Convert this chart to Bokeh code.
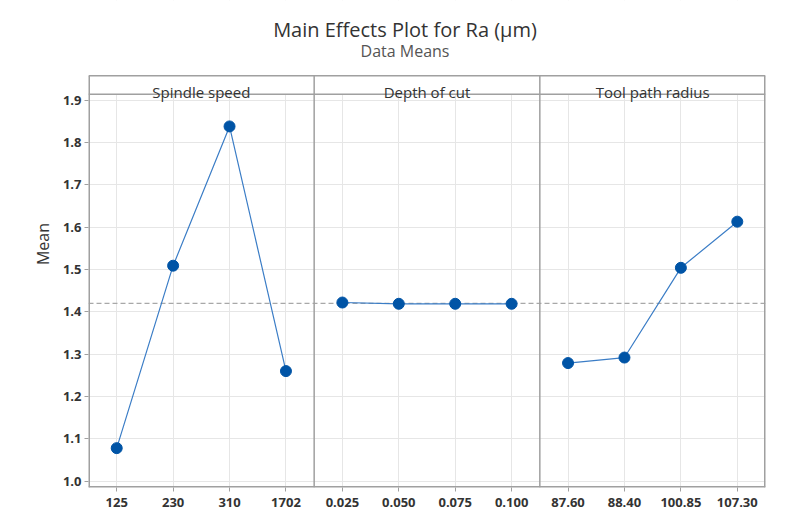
from bokeh.plotting import figure
from bokeh.models import FixedTicker, PrintfTickFormatter
from bokeh.core.properties import value
from bokeh.embed import file_html
from bokeh.resources import INLINE

# ---- data ----
title_text = "Main Effects Plot for Ra (µm)"
subtitle_text = "Data Means"
factor_names = ["Spindle speed", "Depth of cut", "Tool path radius"]
spindle_levels = ["125", "230", "310", "1702"]
spindle_means = [1.078, 1.509, 1.838, 1.260]
depth_levels = ["0.025", "0.050", "0.075", "0.100"]
depth_means = [1.422, 1.419, 1.419, 1.419]
radius_levels = ["87.60", "88.40", "100.85", "107.30"]
radius_means = [1.279, 1.292, 1.504, 1.613]
overall_mean = 1.420
y_ticks = [1.0, 1.1, 1.2, 1.3, 1.4, 1.5, 1.6, 1.7, 1.8, 1.9]

panels = [(spindle_levels, spindle_means), (depth_levels, depth_means), (radius_levels, radius_means)]

FONT = "Open Sans"
TXT = "#333333"
FRAME = "#a0a0a0"
# y layout (data units): plot box bottom, strip bottom, box top, canvas top
Y_BOTTOM, Y_HEADER, Y_TOP, Y_CANVAS = 0.985, 1.9142, 1.958, 2.1355

p = figure(frame_width=677, frame_height=487,
           min_border_left=88, min_border_right=14, min_border_top=0, min_border_bottom=34,
           x_range=(0.5, 12.5), y_range=(Y_BOTTOM, Y_CANVAS),
           output_backend="svg", toolbar_location=None, title=None,
           background_fill_color="white", border_fill_color="white")
p.outline_line_color = None

# grids
p.xgrid.ticker = FixedTicker(ticks=list(range(1, 13)))
p.ygrid.ticker = FixedTicker(ticks=y_ticks)
for g in (p.xgrid, p.ygrid):
    g.grid_line_color = "#e6e6e6"
    g.grid_line_width = 1

# axes
labels = {}
for k, (lv, _) in enumerate(panels):
    for i, lab in enumerate(lv):
        labels[k * 4 + i + 1] = lab
p.xaxis.ticker = FixedTicker(ticks=list(labels.keys()))
p.xaxis.major_label_overrides = labels
p.yaxis.ticker = FixedTicker(ticks=y_ticks)
p.yaxis.formatter = PrintfTickFormatter(format="%.1f")
p.yaxis.axis_label = "Mean"
p.yaxis.axis_label_text_font = FONT
p.yaxis.axis_label_text_font_size = "16px"
p.yaxis.axis_label_text_font_style = "normal"
p.yaxis.axis_label_text_color = TXT
p.yaxis.axis_label_standoff = 6
for ax in (p.xaxis, p.yaxis):
    ax.axis_line_color = None
    ax.major_tick_line_color = FRAME
    ax.major_tick_out = 4
    ax.major_tick_in = 0
    ax.minor_tick_line_color = None
    ax.major_label_text_font = FONT
    ax.major_label_text_font_size = "13px"
    ax.major_label_text_font_style = "bold"
    ax.major_label_text_color = TXT
p.yaxis.major_label_standoff = 3
p.xaxis.major_label_standoff = 6

# blank area above the panels (title area + header strip background)
p.quad(left=[0.5], right=[12.5], bottom=[Y_HEADER], top=[Y_CANVAS], fill_color="white", line_color=None)

# titles
p.text(x=[6.11], y=[2.0669], text=[title_text], text_align="center", text_baseline="middle",
       text_font=value(FONT), text_font_size="20px", text_color=TXT)
p.text(x=[6.11], y=[2.0173], text=[subtitle_text], text_align="center", text_baseline="middle",
       text_font=value(FONT), text_font_size="16px", text_color="#555555")

# header strip
p.segment(x0=[0.5, 0.5], x1=[12.5, 12.5], y0=[Y_HEADER, Y_TOP], y1=[Y_HEADER, Y_TOP],
          line_color=FRAME, line_width=1.5)
p.text(x=[2.5, 6.5, 10.5], y=[1.9203] * 3, text=factor_names, text_align="center",
       text_baseline="alphabetic", text_font=value(FONT), text_font_size="15px", text_color=TXT)

# mean reference line
p.segment(x0=[0.5], x1=[12.5], y0=[overall_mean], y1=[overall_mean],
          line_color="#a8a8a8", line_width=1.2, line_dash="5 3")

# panel dividers
p.segment(x0=[4.5, 8.5], x1=[4.5, 8.5], y0=[Y_BOTTOM] * 2, y1=[Y_TOP] * 2,
          line_color=FRAME, line_width=1.5)
# box edges lying on the frame boundary (half clipped, hence wider)
p.segment(x0=[0.5, 12.5, 0.5], x1=[0.5, 12.5, 12.5], y0=[Y_BOTTOM, Y_BOTTOM, Y_BOTTOM],
          y1=[Y_TOP, Y_TOP, Y_BOTTOM], line_color=FRAME, line_width=3)

# data
for k, (lv, means) in enumerate(panels):
    xs = [k * 4 + i + 1 for i in range(len(lv))]
    p.line(xs, means, line_color="#3b7dc6", line_width=1.2)
    p.scatter(xs, means, size=11, fill_color="#0054a6", line_color="#0054a6")

open("out.html", "w").write(file_html(p, INLINE))
